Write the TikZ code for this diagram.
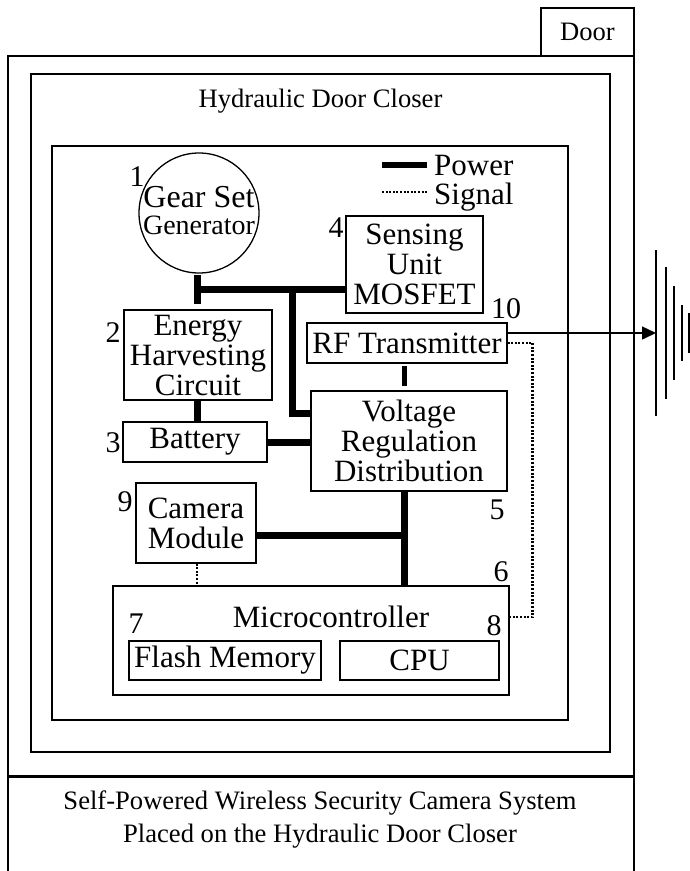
\documentclass[tikz,border=0pt]{standalone}
\usepackage{fontspec}
\setmainfont{Liberation Serif}
\usetikzlibrary{arrows.meta}

\newcommand{\blktxt}{\fontsize{31}{30}\selectfont}
\newcommand{\captxt}{\fontsize{26.6}{30}\selectfont}
\newcommand{\numtxt}{\fontsize{30}{30}\selectfont}

\tikzset{
  blk/.style={draw, line width=1.3pt, inner sep=0pt, align=center, font=\blktxt},
  num/.style={inner sep=0pt, font=\numtxt},
  pwr/.style={line width=7pt},
  sig/.style={line width=2.5pt, dash pattern=on 2pt off 1.6pt},
}

\begin{document}
\begin{tikzpicture}[x=1pt,y=-1pt]
    \useasboundingbox (0,0) rectangle (690,871);
    \draw[line width=1.6pt] (8,871) -- (8,56) -- (634,56) -- (634,871);
    \path (587.5,32) node[draw, line width=1.6pt, minimum width=93pt, minimum height=48pt, inner sep=0pt, font=\captxt] (door) {Door};
    \draw[line width=1.6pt] (31,74) rectangle (610,752);
    \path (320.5,101) node[font=\captxt] (closer) {Hydraulic Door Closer};
    \draw[line width=1.4pt] (52,146) rectangle (568,720);
    \draw[line width=3pt] (8,776) -- (634,776);
    \path (320,803) node[font=\captxt] (capA) {Self-Powered Wireless Security Camera System};
    \path (320,836) node[font=\captxt] (capB) {Placed on the Hydraulic Door Closer};

    \draw[line width=6pt] (382,165) -- (427,165);
    \draw[sig] (382,192) -- (427,192);
    \path (434,175) node[anchor=base west, inner sep=0pt, font=\blktxt] (lgP) {Power};
    \path (434,204) node[anchor=base west, inner sep=0pt, font=\blktxt] (lgS) {Signal};

    \path (199,213) node[draw, circle, line width=1.3pt, minimum size=120pt, inner sep=0pt] (gen) {};
    \path (199,207) node[anchor=base, inner sep=0pt, font=\fontsize{32}{32}\selectfont] (genA) {Gear Set};
    \path (199,234) node[anchor=base, inner sep=0pt, font=\fontsize{28}{28}\selectfont] (genB) {Generator};
    \path (198,355) node[blk, minimum width=148pt, minimum height=90pt] (harv) {Energy\\Harvesting\\Circuit};
    \path (195,442) node[blk, minimum width=144pt, minimum height=40pt] (batt) {Battery};
    \path (414.5,264.5) node[blk, minimum width=137pt, minimum height=97pt] (sense) {Sensing\\Unit\\MOSFET};
    \path (407,343) node[blk, minimum width=200pt, minimum height=40pt] (rf) {RF Transmitter};
    \path (409,441) node[blk, minimum width=196pt, minimum height=100pt] (vreg) {Voltage\\Regulation\\Distribution};
    \path (196,523) node[blk, minimum width=120pt, minimum height=80pt] (cam) {Camera\\Module};
    \path (311,640.5) node[blk, minimum width=396pt, minimum height=109pt] (mcu) {};
    \path (331,617) node[inner sep=0pt, font=\blktxt] (mcuT) {Microcontroller};
    \path (225,660.5) node[blk, minimum width=192pt, minimum height=39pt] (flash) {Flash Memory};
    \path (419.5,660.5) node[blk, minimum width=159pt, minimum height=39pt] (cpu) {CPU};

    \path (137,177) node[num] (n1) {1};
    \path (113,333) node[num] (n2) {2};
    \path (113,443) node[num] (n3) {3};
    \path (336,228) node[num] (n4) {4};
    \path (497,510) node[num] (n5) {5};
    \path (501,572) node[num] (n6) {6};
    \path (136,624) node[num] (n7) {7};
    \path (494,626) node[num] (n8) {8};
    \path (125,502) node[num] (n9) {9};
    \path (506,309) node[num] (n10) {10};

    \coordinate (bus) at (197,289);
    \coordinate (tap) at (292,289);
    \coordinate (drop) at ([xshift=-5pt]vreg.south);
    \draw[pwr, shorten <=1pt, shorten >=5pt] (gen.south -| bus) -- (bus |- harv.north);
    \draw[pwr] (bus) -- (bus -| sense.west);
    \draw[pwr] (tap) |- ([yshift=28pt]vreg.west);
    \draw[pwr] (harv.south -| bus) -- (bus |- batt.north);
    \draw[pwr] (batt.east) -- (batt.east -| vreg.west);
    \draw[pwr, line width=5pt, shorten <=2pt, shorten >=4pt] ([xshift=-2.5pt]rf.south) -- ([xshift=-2.5pt]rf.south |- vreg.north);
    \draw[pwr] (drop) -- (drop |- mcu.north);
    \draw[pwr] ([yshift=-12pt]cam.east) -- ([yshift=-12pt]cam.east -| drop);
    \draw[sig] (cam.south -| bus) -- (bus |- mcu.north);
    \draw[sig] (rf.east) -- ++(25,0) |- ([yshift=23.5pt]mcu.east);

    \coordinate (ant) at (656,333);
    \draw[line width=1.5pt, -{Triangle[length=14pt,width=13pt]}] ([yshift=10pt]rf.east) -- (ant);
    \foreach \x/\h in {656/83, 666/66, 674/47, 682/28, 689/20}
        \draw[line width=1.6pt] (\x,333-\h) -- (\x,333+\h);
\end{tikzpicture}
\end{document}
